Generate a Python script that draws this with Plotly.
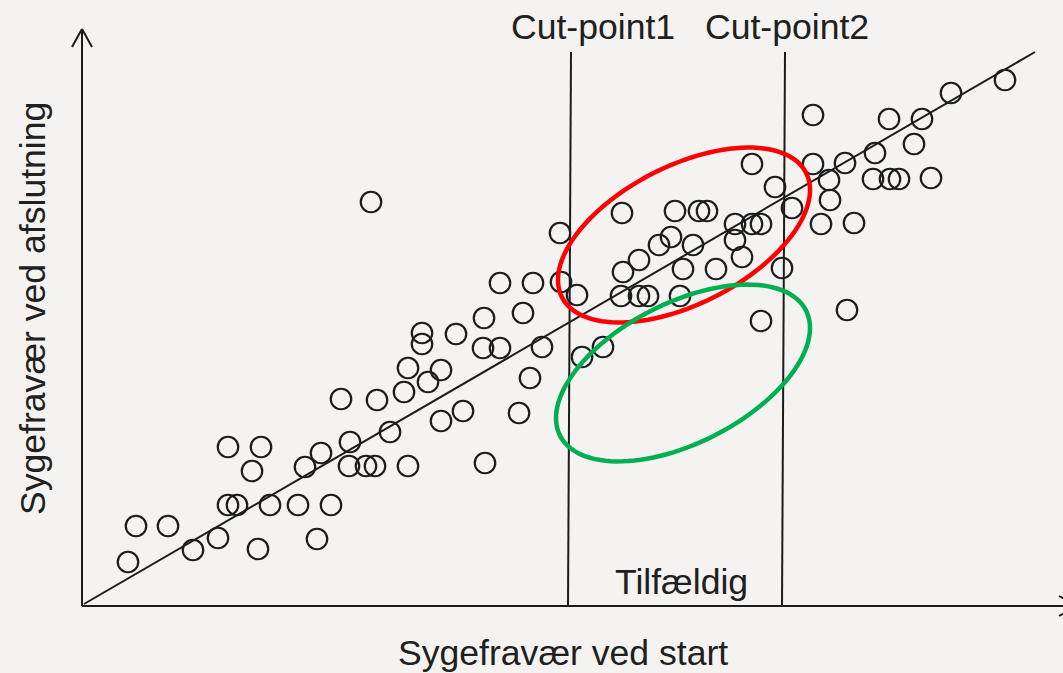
import numpy as np
import plotly.graph_objects as go

# ---- data (x = distance right of origin, y = distance above origin, in picture units) ----
pt_x = [46, 54, 86, 111, 136, 146, 155, 146, 179, 170, 176, 188, 216, 223, 239, 249, 235,
        259, 268, 267, 284, 293, 289, 295, 308, 322, 326, 326, 340, 340, 346, 359, 359,
        374, 381, 402, 403, 401, 418, 418, 437, 441, 448, 451, 460, 478, 479, 495, 500,
        521, 540, 541, 539, 557, 566, 557, 577, 589, 593, 601, 598, 611, 617, 625, 634,
        653, 653, 660, 670, 679, 670, 679, 693, 700, 710, 731, 731, 739, 747, 748, 763,
        772, 765, 793, 791, 807, 808, 817, 832, 840, 849, 869, 923]
pt_y = [44, 80, 80, 56, 68, 101, 101, 159, 159, 135, 57, 101, 101, 139, 153, 101, 67,
        207, 164, 140, 140, 140, 404, 206, 174, 214, 140, 238, 273, 262, 224, 236, 185,
        272, 195, 288, 143, 258, 258, 323, 193, 293, 228, 323, 259, 373, 324, 311, 249,
        259, 393, 334, 310, 310, 310, 346, 361, 369, 395, 337, 310, 361, 395, 395, 337,
        382, 366, 349, 382, 382, 442, 285, 419, 338, 398, 491, 442, 382, 426, 406, 443,
        383, 296, 453, 427, 487, 427, 427, 462, 487, 428, 513, 526]

reg_x = [2, 953]          # regression line end points
reg_y = [2, 554]
cut1_x = [489, 486]       # Cut-point1 line (top, bottom)
cut2_x = [703, 700]       # Cut-point2 line (top, bottom)
cut_y = [554, 0]

INK = "#1c1c1c"
BG = "#f4f3f1"
FONT = "Liberation Sans, Arial, sans-serif"

fig = go.Figure()

fig.add_trace(go.Scatter(x=reg_x, y=reg_y, mode="lines",
                         line=dict(color=INK, width=2), hoverinfo="skip"))
fig.add_trace(go.Scatter(x=cut1_x, y=cut_y, mode="lines",
                         line=dict(color=INK, width=2), hoverinfo="skip"))
fig.add_trace(go.Scatter(x=cut2_x, y=cut_y, mode="lines",
                         line=dict(color=INK, width=2), hoverinfo="skip"))
fig.add_trace(go.Scatter(x=pt_x, y=pt_y, mode="markers",
                         marker=dict(symbol="circle-open", size=20.5,
                                     line=dict(color=INK, width=2.2), color=INK)))


def ellipse_path(cx, cy, a, b, deg, n=120):
    t = np.linspace(0, 2 * np.pi, n)
    th = np.radians(deg)
    xs = cx + a * np.cos(t) * np.cos(th) - b * np.sin(t) * np.sin(th)
    ys = cy + a * np.cos(t) * np.sin(th) + b * np.sin(t) * np.cos(th)
    p = "M " + " L ".join(f"{x:.2f},{y:.2f}" for x, y in zip(xs, ys)) + " Z"
    return p


shapes = []
# axes with arrows
shapes.append(dict(type="line", x0=0, y0=0, x1=0, y1=577, line=dict(color=INK, width=2)))
shapes.append(dict(type="line", x0=-10, y0=559, x1=0, y1=577, line=dict(color=INK, width=2)))
shapes.append(dict(type="line", x0=10, y0=559, x1=0, y1=577, line=dict(color=INK, width=2)))
shapes.append(dict(type="line", x0=0, y0=0, x1=995, y1=0, line=dict(color=INK, width=2)))
shapes.append(dict(type="line", x0=977, y0=10, x1=995, y1=0, line=dict(color=INK, width=2)))
shapes.append(dict(type="line", x0=977, y0=-10, x1=995, y1=0, line=dict(color=INK, width=2)))
# highlight ellipses
shapes.append(dict(type="path", path=ellipse_path(602, 371, 137, 69, 27),
                   line=dict(color="#ff0000", width=4.5)))
shapes.append(dict(type="path", path=ellipse_path(601, 233, 138, 70, 27),
                   line=dict(color="#00b050", width=4.5)))
for s in shapes:
    s.update(xref="x", yref="y")

tf = dict(family=FONT, size=35.6, color="#202020")
annotations = [
    dict(x=511, y=579, text="Cut-point1", showarrow=False, font=tf),
    dict(x=705, y=579, text="Cut-point2", showarrow=False, font=tf),
    dict(x=599, y=24, text="Tilfældig", showarrow=False, font=tf),
    dict(x=481, y=-47, text="Sygefravær ved start", showarrow=False, font=tf),
    dict(x=-49, y=297, text="Sygefravær ved afslutning", showarrow=False, font=tf,
         textangle=-90),
]

fig.update_layout(
    width=1063, height=673,
    margin=dict(l=0, r=0, t=0, b=0, pad=0),
    paper_bgcolor=BG, plot_bgcolor=BG,
    showlegend=False,
    xaxis=dict(range=[-82, 981], visible=False, fixedrange=True),
    yaxis=dict(range=[-67, 606], visible=False, fixedrange=True),
    shapes=shapes,
    annotations=annotations,
    font=dict(family=FONT),
)

fig.write_html("out.html", config={"displayModeBar": False},
               post_script="document.body.style.margin='0';")
